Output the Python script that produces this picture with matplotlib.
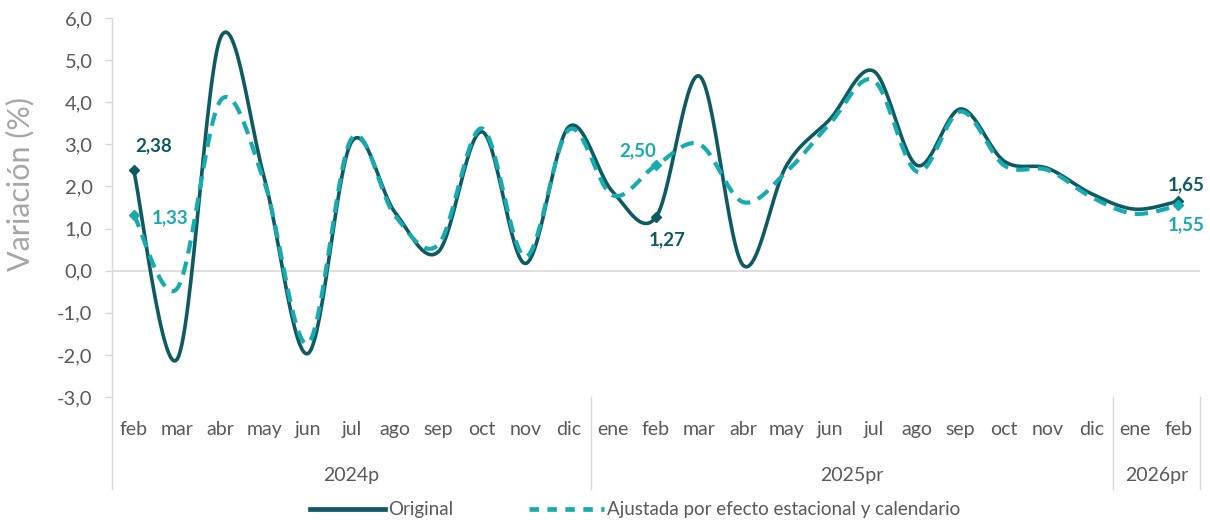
import numpy as np
import matplotlib
matplotlib.use("Agg")
import matplotlib.pyplot as plt
from matplotlib.lines import Line2D
from matplotlib import font_manager

months = ["feb", "mar", "abr", "may", "jun", "jul", "ago", "sep", "oct", "nov", "dic",
          "ene", "feb", "mar", "abr", "may", "jun", "jul", "ago", "sep", "oct", "nov", "dic",
          "ene", "feb"]
years = ["2024p", "2025pr", "2026pr"]
year_sizes = [11, 12, 2]

original = [2.38, -2.1, 5.55, 2.2, -1.97, 3.05, 1.39, 0.45, 3.3, 0.17, 3.42,
            1.88, 1.27, 4.62, 0.13, 2.5, 3.6, 4.74, 2.5, 3.84, 2.6, 2.43, 1.83,
            1.46, 1.65]
ajustada = [1.33, -0.42, 4.05, 2.1, -1.73, 3.13, 1.31, 0.62, 3.38, 0.33, 3.35,
            1.79, 2.50, 3.0, 1.63, 2.35, 3.5, 4.52, 2.35, 3.78, 2.5, 2.39, 1.75,
            1.35, 1.55]

yticks = [-3, -2, -1, 0, 1, 2, 3, 4, 5, 6]

C_ORIG = "#0d5a62"
C_ADJ = "#17abb0"
C_TXT = "#595959"
C_GRID = "#d9d9d9"

avail = {f.name for f in font_manager.fontManager.ttflist}
fam = ["Liberation Sans Narrow", "Lato", "DejaVu Sans"]
fam = [f for f in fam if f in avail] or ["DejaVu Sans"]
plt.rcParams["font.family"] = fam


def smooth(xs, ys, n=30):
    xs = np.asarray(xs, float)
    ys = np.asarray(ys, float)
    px = np.concatenate([[xs[0]], xs, [xs[-1]]])
    py = np.concatenate([[ys[0]], ys, [ys[-1]]])
    ox, oy = [], []
    t = np.linspace(0, 1, n)
    for i in range(1, len(px) - 2):
        p0x, p1x, p2x, p3x = px[i - 1], px[i], px[i + 1], px[i + 2]
        p0y, p1y, p2y, p3y = py[i - 1], py[i], py[i + 1], py[i + 2]
        c1x = p1x + (p2x - p0x) / 6
        c1y = p1y + (p2y - p0y) / 6
        c2x = p2x - (p3x - p1x) / 6
        c2y = p2y - (p3y - p1y) / 6
        bx = (1 - t) ** 3 * p1x + 3 * (1 - t) ** 2 * t * c1x + 3 * (1 - t) * t ** 2 * c2x + t ** 3 * p2x
        by = (1 - t) ** 3 * p1y + 3 * (1 - t) ** 2 * t * c1y + 3 * (1 - t) * t ** 2 * c2y + t ** 3 * p2y
        ox.extend(bx)
        oy.extend(by)
    return np.array(ox), np.array(oy)


fig = plt.figure(figsize=(12.1, 5.24), dpi=100)
ax = fig.add_axes([112 / 1210, 1 - 397 / 524, (1200 - 112) / 1210, (397 - 18) / 524])

x = np.arange(len(months))
sx, sy = smooth(x, original)
ax.plot(sx, sy, color=C_ORIG, lw=2.6, solid_capstyle="round", zorder=3)
ax2x, ax2y = smooth(x, ajustada)
ax.plot(ax2x, ax2y, color=C_ADJ, lw=3.0, dashes=(3.2, 2.0), zorder=4)

for i in [0, 12, 24]:
    ax.plot(x[i], original[i], marker="D", ms=5, color=C_ORIG, zorder=5)
    ax.plot(x[i], ajustada[i], marker="D", ms=5, color=C_ADJ, zorder=5)


def fmt(v):
    return f"{v:.2f}".replace(".", ",")


lab_kw = dict(textcoords="offset points", fontsize=13.5, fontweight="bold", ha="center", va="center")
ax.annotate(fmt(original[0]), (x[0], original[0]), xytext=(14, 18), color=C_ORIG, **lab_kw)
ax.annotate(fmt(ajustada[0]), (x[0], ajustada[0]), xytext=(26, -2), color=C_ADJ, **lab_kw)
ax.annotate(fmt(ajustada[12]), (x[12], ajustada[12]), xytext=(-13, 10.5), color=C_ADJ, **lab_kw)
ax.annotate(fmt(original[12]), (x[12], original[12]), xytext=(8, -16.5), color=C_ORIG, **lab_kw)
ax.annotate(fmt(original[24]), (x[24], original[24]), xytext=(6, 11.5), color=C_ORIG, **lab_kw)
ax.annotate(fmt(ajustada[24]), (x[24], ajustada[24]), xytext=(6, -14), color=C_ADJ, **lab_kw)

ax.set_xlim(-0.5, len(months) - 0.5)
ax.set_ylim(-3, 6)
ax.set_yticks(yticks)
ax.set_yticklabels([f"{v:.1f}".replace(".", ",") for v in yticks], color=C_TXT, fontsize=14.5)
ax.tick_params(axis="y", length=5, color=C_GRID, width=1, pad=9)
ax.set_xticks([])
for s in ["top", "right", "bottom"]:
    ax.spines[s].set_visible(False)
ax.spines["left"].set_color(C_GRID)
ax.axhline(0, color=C_GRID, lw=1.2, zorder=1)
ax.set_ylabel("Variación (%)", color="#a6a6a6", fontsize=22)
ax.yaxis.set_label_coords(-0.0717, 0.562)

# multi-level category axis
trans = ax.get_xaxis_transform()
y_month = -0.0845
y_year = -0.208
for i, m in enumerate(months):
    ax.text(i, y_month, m, transform=trans, ha="center", va="center", color=C_TXT, fontsize=14)
bounds = np.concatenate([[0], np.cumsum(year_sizes)]) - 0.5
for j, yname in enumerate(years):
    ax.text((bounds[j] + bounds[j + 1]) / 2, y_year, yname, transform=trans, ha="center",
            va="center", color=C_TXT, fontsize=14)
for b in bounds:
    ax.add_line(Line2D([b, b], [0, -0.243], transform=trans, color=C_GRID, lw=1, clip_on=False))
ax.add_line(Line2D([bounds[0], bounds[0]], [0, 1], transform=trans, color=C_GRID, lw=1, clip_on=False))

handles = [Line2D([], [], color=C_ORIG, lw=3.4),
           Line2D([], [], color=C_ADJ, lw=3.4, dashes=(2.0, 1.8))]
leg = fig.legend(handles, ["Original", "Ajustada por efecto estacional y calendario"],
                 loc="center", bbox_to_anchor=(0.525, 0.027), ncol=2, frameon=False,
                 fontsize=13.5, handlelength=4.0, handletextpad=0.2, columnspacing=4.0)
for t in leg.get_texts():
    t.set_color(C_TXT)

fig.savefig("out.png", dpi=100)
